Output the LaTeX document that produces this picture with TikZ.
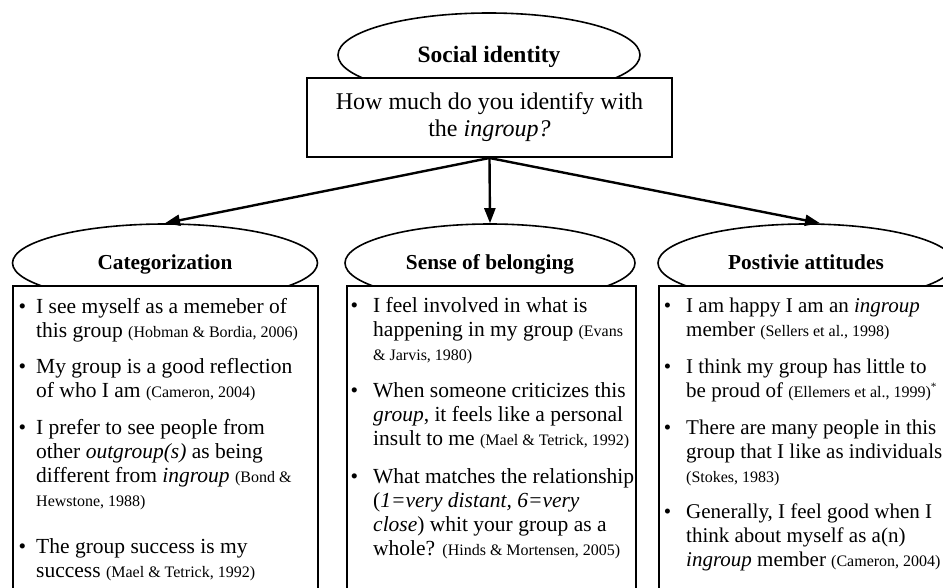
\documentclass[tikz,border=0pt]{standalone}
\usepackage{fontspec}
\setmainfont{Liberation Serif}
\usetikzlibrary{arrows.meta,shapes.geometric}
\newcommand\cit{\fontsize{16}{24}\selectfont}
\newcommand\bodyf{\fontsize{21.5}{24}\selectfont}
\newcommand\bodyg{\fontsize{21}{24}\selectfont}
\newcommand\bulA{\llap{\textbullet\hspace{10pt}}}
\newcommand\bulB{\llap{\textbullet\hspace{15pt}}}
\begin{document}
\begin{tikzpicture}[x=1pt,y=-1pt,
  oval/.style={ellipse, draw, line width=1.6pt, fill=white, inner sep=0pt},
  qbox/.style={rectangle, draw, line width=2pt, fill=white, inner sep=0pt, align=center},
  panel/.style={rectangle, draw, line width=2pt, fill=white, inner sep=0pt, anchor=north west},
  itemtxt/.style={anchor=base west, inner sep=0pt, font=\bodyf},
  itemtxtr/.style={anchor=base west, inner sep=0pt, font=\bodyg},
  conn/.style={-{Triangle[length=15pt,width=11pt]}, line width=2.4pt}]
\useasboundingbox (0,0) rectangle (943,587);
\clip (0,0) rectangle (943,587);
\fill[white] (0,0) rectangle (943,587);

% top
\node[oval, minimum width=302pt, minimum height=84pt] (si) at (489,55) {};
\node[anchor=base, inner sep=0pt, font=\fontsize{23.5}{27}\selectfont\bfseries] (sitxt) at (489,62) {Social identity};
\node[qbox, minimum width=365pt, minimum height=79pt, font=\fontsize{24}{27}\selectfont] (q) at (489.5,117.5) {How much do you identify with\\the \textit{ingroup?}};

% lower ellipses
\node[oval, minimum width=305pt, minimum height=78pt] (cat) at (165,263) {};
\node[oval, minimum width=290pt, minimum height=78pt] (bel) at (490,263) {};
\node[oval, minimum width=296pt, minimum height=78pt] (pos) at (806,263) {};
\node[anchor=base, inner sep=0pt, font=\fontsize{21.3}{24}\selectfont\bfseries] (cattxt) at (165,269) {Categorization};
\node[anchor=base, inner sep=0pt, font=\fontsize{21.3}{24}\selectfont\bfseries] (beltxt) at (490,269) {Sense of belonging};
\node[anchor=base, inner sep=0pt, font=\fontsize{21.3}{24}\selectfont\bfseries] (postxt) at (806,269) {Postivie attitudes};

% panels
\node[panel, minimum width=305pt, minimum height=330pt] (catbox) at (12,285) {};
\node[panel, minimum width=289pt, minimum height=330pt] (belbox) at (346,285) {};
\node[panel, minimum width=297pt, minimum height=330pt] (posbox) at (658,285) {};

% connectors
\draw[conn] (q.south) -- (cat.north);
\draw[conn] (q.south) -- (bel.north);
\coordinate (posin) at ([xshift=14pt]pos.north);
\draw[conn] (q.south) -- (posin);

% left column
\node[itemtxt] (c1) at (36,313) {\begin{tabular}[t]{@{}l@{}}\bulA I see myself as a memeber of\\this group {\cit (Hobman \& Bordia, 2006)}\end{tabular}};
\node[itemtxt] (c2) at (36,373) {\begin{tabular}[t]{@{}l@{}}\bulA My group is a good reflection\\of who I am {\cit (Cameron, 2004)}\end{tabular}};
\node[itemtxt] (c3) at (36,434) {\begin{tabular}[t]{@{}l@{}}\bulA I prefer to see people from\\other \textit{outgroup(s)} as being\\different from \textit{ingroup} {\cit (Bond \&}\\{\cit Hewstone, 1988)}\end{tabular}};
\node[itemtxt] (c4) at (36,553) {\begin{tabular}[t]{@{}l@{}}\bulA The group success is my\\success {\cit (Mael \& Tetrick, 1992)}\end{tabular}};

% middle column
\node[itemtxt] (b1) at (373,312) {\begin{tabular}[t]{@{}l@{}}\bulB I feel involved in what is\\happening in my group {\cit (Evans}\\{\cit \& Jarvis, 1980)}\end{tabular}};
\node[itemtxt] (b2) at (373,397) {\begin{tabular}[t]{@{}l@{}}\bulB When someone criticizes this\\\textit{group}, it feels like a personal\\insult to me {\cit (Mael \& Tetrick, 1992)}\end{tabular}};
\node[itemtxt] (b3) at (373,483) {\begin{tabular}[t]{@{}l@{}}\bulB What matches the relationship\\(\textit{1=very distant, 6=very}\\\textit{close}) whit your group as a\\whole? {\cit (Hinds \& Mortensen, 2005)}\end{tabular}};

% right column
\node[itemtxtr] (p1) at (686,312) {\begin{tabular}[t]{@{}l@{}}\bulB I am happy I am an \textit{ingroup}\\member {\cit (Sellers et al., 1998)}\end{tabular}};
\node[itemtxtr] (p2) at (686,373) {\begin{tabular}[t]{@{}l@{}}\bulB I think my group has little to\\be proud of {\cit (Ellemers et al., 1999)\textsuperscript{*}}\end{tabular}};
\node[itemtxtr] (p3) at (686,434) {\begin{tabular}[t]{@{}l@{}}\bulB There are many people in this\\group that I like as individuals\\{\cit (Stokes, 1983)}\end{tabular}};
\node[itemtxtr] (p4) at (686,518) {\begin{tabular}[t]{@{}l@{}}\bulB Generally, I feel good when I\\think about myself as a(n)\\\textit{ingroup} member {\cit (Cameron, 2004)}\end{tabular}};
\end{tikzpicture}
\end{document}
